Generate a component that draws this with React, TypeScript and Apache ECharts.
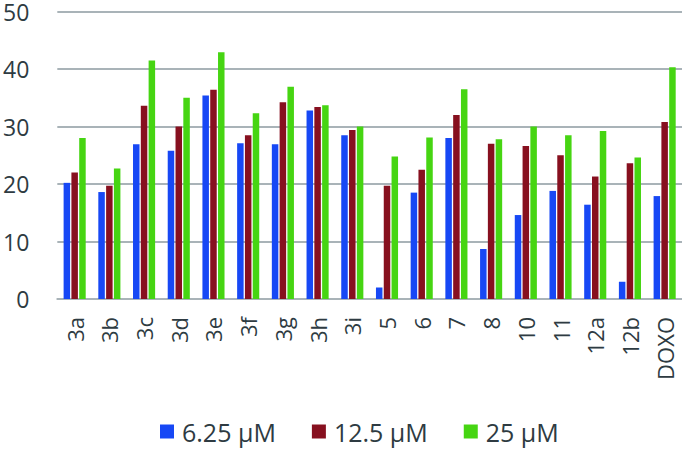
import React, { useEffect, useRef } from "react";
import * as echarts from "echarts";

const categories = ["3a", "3b", "3c", "3d", "3e", "3f", "3g", "3h", "3i", "5", "6", "7", "8", "10", "11", "12a", "12b", "DOXO"];
const seriesNames = ["6.25 µM", "12.5 µM", "25 µM"];
const values625 = [20.2, 18.6, 26.9, 25.8, 35.4, 27.1, 26.9, 32.8, 28.5, 2.0, 18.5, 28.0, 8.7, 14.6, 18.8, 16.4, 3.0, 17.9];
const values125 = [22.0, 19.7, 33.6, 30.0, 36.4, 28.5, 34.2, 33.4, 29.4, 19.7, 22.5, 32.0, 27.0, 26.6, 25.0, 21.3, 23.6, 30.8];
const values25 = [28.0, 22.7, 41.5, 35.0, 42.9, 32.3, 36.9, 33.7, 30.0, 24.8, 28.1, 36.5, 27.8, 30.0, 28.5, 29.2, 24.6, 40.3];
const colors = ["#1748F5", "#87101F", "#46D512"];

export default function App() {
  const ref = useRef<HTMLDivElement>(null);
  useEffect(() => {
    if (!ref.current) return;
    const chart = echarts.init(ref.current, null, { renderer: "svg" });
    const font = "'Open Sans', sans-serif";
    const textColor = "#2E3B42";
    const data = [values625, values125, values25];
    chart.setOption({
      animation: false,
      textStyle: { fontFamily: font },
      grid: { left: 56, right: 0, top: 11, bottom: 150, containLabel: false },
      legend: {
        data: seriesNames,
        top: 419,
        left: 160,
        padding: 0,
        itemWidth: 14,
        itemHeight: 14,
        itemGap: 36,
        icon: "rect",
        textStyle: { fontFamily: font, fontSize: 25, color: textColor, padding: [0, 0, 0, 3] },
      },
      xAxis: {
        type: "category",
        data: categories,
        axisTick: { show: false },
        axisLine: { show: true, lineStyle: { color: "#A9B3B8", width: 2 } },
        axisLabel: { rotate: 90, fontSize: 22, color: textColor, fontFamily: font, margin: 18, interval: 0 },
      },
      yAxis: {
        type: "value",
        min: 0,
        max: 50,
        interval: 10,
        axisLine: { show: false },
        axisTick: { show: false },
        splitLine: { lineStyle: { color: "#A9B3B8", width: 2 } },
        axisLabel: { fontSize: 23, lineHeight: 22, color: textColor, fontFamily: font, margin: 28 },
      },
      series: seriesNames.map((name, i) => ({
        name,
        type: "bar",
        data: data[i],
        barWidth: 6.5,
        barGap: "20%",
        itemStyle: { color: colors[i] },
      })),
    });
    return () => chart.dispose();
  }, []);
  return <div ref={ref} style={{ width: 682, height: 449, position: "absolute", left: 0, top: 0 }} />;
}
